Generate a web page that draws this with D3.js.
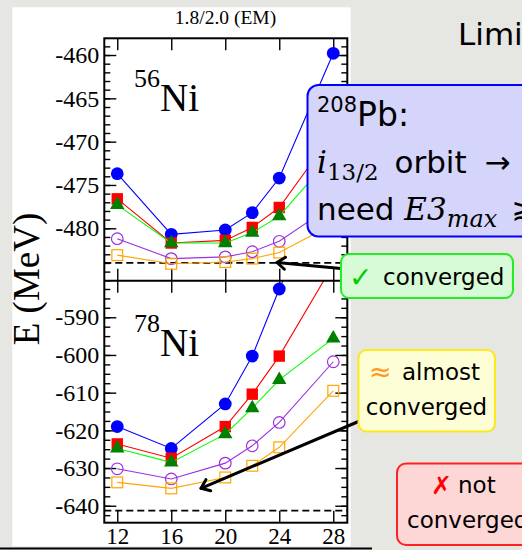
<!DOCTYPE html>
<html><head><meta charset="utf-8">
<script src="https://cdn.jsdelivr.net/npm/d3@7"></script>
<style>
html,body{margin:0;padding:0;background:#e6e6e2;}
svg{display:block;}
</style>
</head><body>
<svg id="chart" width="522" height="550"></svg>
<script>
// ---------- data ----------
const xValues = [12, 16, 20, 22, 24, 28];
const xTickValues = [12, 16, 20, 24, 28];

const ni56Blue   = [-473.7, -480.7, -480.2, -478.2, -474.2, -459.8];
const ni56Red    = [-476.6, -481.7, -481.4, -479.9, -477.6, -469.0];
const ni56Green  = [-477.3, -481.7, -481.7, -480.5, -478.6, -471.5];
const ni56Purple = [-481.2, -483.5, -483.3, -482.7, -481.5, -477.3];
const ni56Orange = [-483.1, -484.1, -483.9, -483.5, -482.8, -479.5];
const ni56Reference = -484.0;

const ni78Blue   = [-619.0, -624.8, -613.0, -600.3, -582.5, -550.0];
const ni78Red    = [-623.6, -627.4, -619.0, -610.4, -600.3, -576.0];
const ni78Green  = [-624.8, -628.5, -621.0, -614.1, -606.6, -595.6];
const ni78Purple = [-630.2, -632.9, -628.7, -624.1, -617.9, -601.8];
const ni78Orange = [-633.8, -635.4, -632.5, -629.4, -624.5, -609.5];
const ni78Reference = -641.3;

const ni56MajorTicks = [-480, -475, -470, -465, -460];
const ni56MinorTicks = d3.range(-486, -458, 1);
const ni78MajorTicks = [-640, -630, -620, -610, -600, -590];
const ni78MinorTicks = d3.range(-642.5, -580, 2.5);

const chartTitle = "1.8/2.0 (EM)";
const yAxisTitle = "E (MeV)";

// ---------- layout ----------
const svg = d3.select("#chart");
const FX0 = 104.3, FX1 = 347.3;
const TOP0 = 38.3, MID = 280.7, BOT1 = 522.7;
const serif = "Liberation Serif, Times New Roman, serif";
const sans = "DejaVu Sans, sans-serif";
const mathFont = "DejaVu Serif, serif";

// white chart page
svg.append("rect").attr("x", 12.3).attr("y", 7.3).attr("width", 338.4).attr("height", 539).attr("fill", "#fff");
svg.append("line").attr("x1", 0).attr("x2", 372).attr("y1", 548.5).attr("y2", 548.5).attr("stroke", "#000").attr("stroke-width", 2);

const x = d3.scaleLinear().domain([11.04, 29.04]).range([FX0, FX1]);
const yTop = d3.scaleLinear().domain([-486.05, -458.07]).range([MID, TOP0]);
const yBot = d3.scaleLinear().domain([-644.5, -580.3]).range([BOT1, MID]);

const styles = [
  {line: "#0000ff", fill: "#0000ff", stroke: "none", shape: "circle"},
  {line: "#ff0000", fill: "#ff0000", stroke: "none", shape: "square"},
  {line: "#00ff00", fill: "#008000", stroke: "none", shape: "triangle"},
  {line: "#9b30e0", fill: "none", stroke: "#9b30e0", shape: "circle"},
  {line: "#ffa500", fill: "none", stroke: "#ffa500", shape: "square"}
];

const panels = [
  {id: "p56", y: yTop, y0: TOP0, y1: MID, series: [ni56Blue, ni56Red, ni56Green, ni56Purple, ni56Orange],
   ref: ni56Reference, major: ni56MajorTicks, minor: ni56MinorTicks},
  {id: "p78", y: yBot, y0: MID, y1: BOT1, series: [ni78Blue, ni78Red, ni78Green, ni78Purple, ni78Orange],
   ref: ni78Reference, major: ni78MajorTicks, minor: ni78MinorTicks}
];

const defs = svg.append("defs");
panels.forEach(p => {
  defs.append("clipPath").attr("id", "clip-" + p.id).append("rect")
    .attr("x", FX0).attr("y", p.y0).attr("width", FX1 - FX0).attr("height", p.y1 - p.y0);
});

function styleAxis(g) {
  g.select(".domain").remove();
  g.selectAll(".tick line").attr("stroke", "#000").attr("stroke-width", 1.4);
}

panels.forEach((p, pi) => {
  const y = p.y;
  const g = svg.append("g");
  g.append("line").attr("x1", FX0).attr("x2", FX1).attr("y1", y(p.ref)).attr("y2", y(p.ref))
    .attr("stroke", "#000").attr("stroke-width", 1.8).attr("stroke-dasharray", "7,4");

  const lm = g.append("g").attr("transform", `translate(${FX0},0)`)
    .call(d3.axisLeft(y).tickValues(p.minor).tickSize(-6).tickFormat(""));
  styleAxis(lm);
  const lM = g.append("g").attr("transform", `translate(${FX0},0)`)
    .call(d3.axisLeft(y).tickValues(p.major).tickSizeInner(-12).tickSizeOuter(0).tickPadding(5).tickFormat(d => String(d)));
  styleAxis(lM);
  lM.selectAll("text").attr("font-family", serif).attr("font-size", 24).attr("fill", "#000");
  const rm = g.append("g").attr("transform", `translate(${FX1},0)`)
    .call(d3.axisRight(y).tickValues(p.minor).tickSize(-6).tickFormat(""));
  styleAxis(rm);
  const rM = g.append("g").attr("transform", `translate(${FX1},0)`)
    .call(d3.axisRight(y).tickValues(p.major).tickSize(-12).tickFormat(""));
  styleAxis(rM);
  const tx = g.append("g").attr("transform", `translate(0,${p.y0})`)
    .call(d3.axisTop(x).tickValues(xTickValues).tickSize(-12).tickFormat(""));
  styleAxis(tx);
  const bx = g.append("g").attr("transform", `translate(0,${p.y1})`)
    .call(d3.axisBottom(x).tickValues(xTickValues).tickSizeInner(-12).tickSizeOuter(0).tickPadding(5)
      .tickFormat(pi === 1 ? (d => String(d)) : ""));
  styleAxis(bx);
  bx.selectAll("text").attr("font-family", serif).attr("font-size", 23).attr("fill", "#000");

  const dg = g.append("g").attr("clip-path", `url(#clip-${p.id})`);
  p.series.forEach((vals, si) => {
    const st = styles[si];
    const pts = vals.map((v, i) => [x(xValues[i]), y(v)]);
    dg.append("path").attr("d", d3.line()(pts)).attr("fill", "none").attr("stroke", st.line).attr("stroke-width", 1.1);
    const open = st.fill === "none";
    pts.forEach(([px, py]) => {
      if (st.shape === "circle") {
        dg.append("circle").attr("cx", px).attr("cy", py).attr("r", open ? 5.8 : 6.4)
          .attr("fill", st.fill).attr("stroke", st.stroke).attr("stroke-width", 1.2);
      } else if (st.shape === "square") {
        const s = open ? 10.8 : 11.4;
        dg.append("rect").attr("x", px - s / 2).attr("y", py - s / 2).attr("width", s).attr("height", s)
          .attr("fill", st.fill).attr("stroke", st.stroke).attr("stroke-width", 1.2);
      } else {
        dg.append("path").attr("transform", `translate(${px},${py})`)
          .attr("d", d3.symbol(d3.symbolTriangle, 90)()).attr("fill", st.fill);
      }
    });
  });
});

// frame
svg.append("rect").attr("x", FX0).attr("y", TOP0).attr("width", FX1 - FX0).attr("height", BOT1 - TOP0)
  .attr("fill", "none").attr("stroke", "#000").attr("stroke-width", 2);
svg.append("line").attr("x1", FX0).attr("x2", FX1).attr("y1", MID).attr("y2", MID).attr("stroke", "#000").attr("stroke-width", 2);

// texts
svg.append("text").attr("x", 225.5).attr("y", 24).attr("text-anchor", "middle")
  .attr("font-family", serif).attr("font-size", 19.5).text(chartTitle);
svg.append("text").attr("transform", "translate(39,279) rotate(-90)").attr("text-anchor", "middle")
  .attr("font-family", serif).attr("font-size", 37).text(yAxisTitle);

function nucleus(xp, yp, mass) {
  const t = svg.append("text").attr("x", xp).attr("y", yp).attr("font-family", serif);
  t.append("tspan").attr("font-size", 26).attr("dy", -24).text(mass);
  t.append("tspan").attr("font-size", 39).attr("dy", 24).text("Ni");
}
nucleus(134, 111, "56");
nucleus(134, 356, "78");

// ---------- slide overlay ----------
svg.append("text").attr("x", 458).attr("y", 45).attr("font-family", sans).attr("font-size", 31).attr("fill", "#000").text("Limi");

function arrow(x1, y1, x2, y2) {
  svg.append("line").attr("x1", x1).attr("y1", y1).attr("x2", x2).attr("y2", y2)
    .attr("stroke", "#000").attr("stroke-width", 3).attr("stroke-linecap", "round");
  const a = Math.atan2(y1 - y2, x1 - x2), L = 10, w = 0.65;
  const p1 = [x2 + L * Math.cos(a + w), y2 + L * Math.sin(a + w)];
  const p2 = [x2 + L * Math.cos(a - w), y2 + L * Math.sin(a - w)];
  svg.append("path").attr("d", `M${p1}L${x2},${y2}L${p2}`).attr("fill", "none")
    .attr("stroke", "#000").attr("stroke-width", 3).attr("stroke-linecap", "round").attr("stroke-linejoin", "round");
}

// blue box
svg.append("rect").attr("x", 307.5).attr("y", 85).attr("width", 240).attr("height", 151.5).attr("rx", 11)
  .attr("fill", "#d5d5fb").attr("stroke", "#0000ff").attr("stroke-width", 2);
const b1 = svg.append("text").attr("x", 317).attr("y", 126).attr("font-family", sans).attr("fill", "#000");
b1.append("tspan").attr("font-size", 21).attr("dy", -14).text("208");
b1.append("tspan").attr("font-size", 33).attr("dy", 14).text("Pb:");
const b2 = svg.append("text").attr("x", 317).attr("y", 173).attr("fill", "#000");
b2.append("tspan").attr("font-family", mathFont).attr("font-style", "italic").attr("font-size", 31).text("i");
b2.append("tspan").attr("font-family", mathFont).attr("font-size", 23).attr("dy", 7).text("13/2");
b2.append("tspan").attr("font-family", sans).attr("font-size", 31).attr("dy", -7).attr("dx", 6).text(" orbit");
b2.append("tspan").attr("font-family", sans).attr("font-size", 31).attr("dx", 8).text(" \u2192");
const b3 = svg.append("text").attr("x", 317).attr("y", 220).attr("fill", "#000");
b3.append("tspan").attr("font-family", sans).attr("font-size", 31).text("need ");
b3.append("tspan").attr("font-family", mathFont).attr("font-style", "italic").attr("font-size", 31).text("E3");
b3.append("tspan").attr("font-family", mathFont).attr("font-style", "italic").attr("font-size", 24).attr("dy", 7).text("max");
b3.append("tspan").attr("font-family", sans).attr("font-size", 31).attr("dy", -7).attr("dx", 4).text(" \u2273");

// green box + arrow
arrow(341, 268.5, 277, 262.5);
svg.append("rect").attr("x", 341).attr("y", 254).attr("width", 172).attr("height", 44).attr("rx", 8)
  .attr("fill", "#d6fbd6").attr("stroke", "#22ee22").attr("stroke-width", 2);
svg.append("text").attr("x", 349).attr("y", 287).attr("font-family", sans).attr("font-size", 28)
  .attr("font-weight", "bold").attr("fill", "#00cc00").text("\u2713");
svg.append("text").attr("x", 383).attr("y", 285).attr("font-family", sans).attr("font-size", 23).attr("fill", "#000").text("converged");

// yellow box + arrow
arrow(358.5, 421.5, 201, 488.3);
svg.append("rect").attr("x", 358.5).attr("y", 350).attr("width", 136.5).attr("height", 81.5).attr("rx", 8)
  .attr("fill", "#fdfdd6").attr("stroke", "#ffe81a").attr("stroke-width", 2);
svg.append("text").attr("x", 369).attr("y", 381).attr("font-family", sans).attr("font-size", 27)
  .attr("fill", "#ff9922").text("\u2248");
svg.append("text").attr("x", 402).attr("y", 380).attr("font-family", sans).attr("font-size", 23).attr("fill", "#000").text("almost");
svg.append("text").attr("x", 426.5).attr("y", 415).attr("text-anchor", "middle").attr("font-family", sans).attr("font-size", 23).text("converged");

// red box
svg.append("rect").attr("x", 397).attr("y", 463.5).attr("width", 140).attr("height", 81.5).attr("rx", 9)
  .attr("fill", "#fdd6d6").attr("stroke", "#ff2020").attr("stroke-width", 2);
svg.append("text").attr("x", 431).attr("y", 494).attr("font-family", sans).attr("font-size", 25)
  .attr("font-weight", "bold").attr("fill", "#ff0000").text("\u2717");
svg.append("text").attr("x", 458).attr("y", 493).attr("font-family", sans).attr("font-size", 23).attr("fill", "#000").text("not");
svg.append("text").attr("x", 407).attr("y", 528).attr("font-family", sans).attr("font-size", 23).text("converged");
</script>
</body></html>
